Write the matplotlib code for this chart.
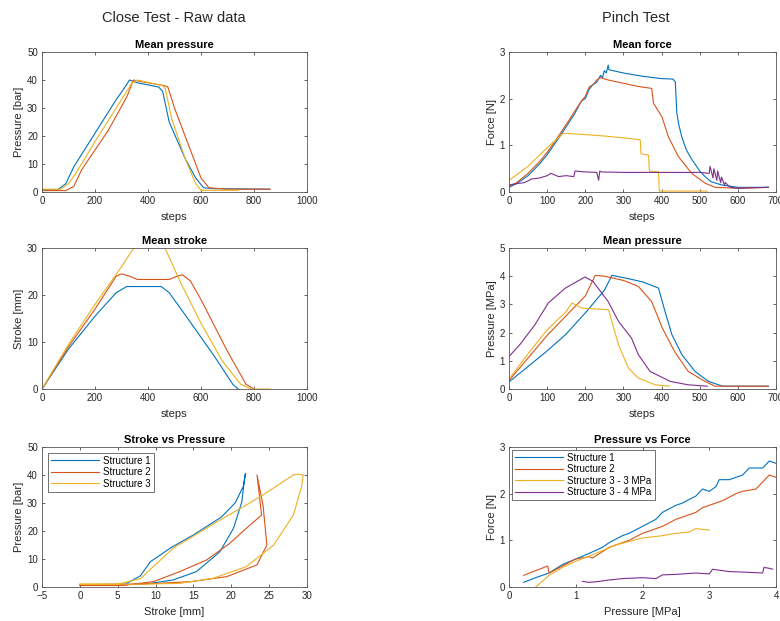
import matplotlib
matplotlib.use("Agg")
import matplotlib.pyplot as plt

plt.rcParams['font.family'] = ['Liberation Sans', 'DejaVu Sans']

C1, C2, C3, C4 = '#0072BD', '#D95319', '#EDB120', '#7E2F8E'
TXT = '#262626'

# ---------------- Close test: mean pressure [bar] vs steps
cp_s1_x = [0, 60, 90, 120, 200, 280, 310, 330, 360, 440, 455, 480, 540, 580, 610, 650, 860]
cp_s1_y = [0.8, 0.8, 3, 9, 21, 33, 37, 40, 39, 37.5, 36, 25, 12, 5, 1.5, 1.2, 1.0]
cp_s2_x = [0, 90, 120, 150, 250, 320, 345, 370, 460, 475, 500, 560, 600, 630, 700, 860]
cp_s2_y = [0.5, 0.5, 2, 8, 22, 34, 40, 39.5, 38, 37.5, 30, 15, 5, 1.5, 1.0, 1.0]
cp_s3_x = [0, 70, 100, 130, 200, 300, 340, 360, 455, 465, 490, 540, 580, 600, 740]
cp_s3_y = [1, 1, 3, 7, 18, 33, 39, 40, 38, 37, 26, 12, 3, 0.6, 0.6]

# ---------------- Close test: mean stroke [mm] vs steps
cs_s1_x = [0, 100, 200, 280, 320, 450, 480, 550, 650, 720, 740]
cs_s1_y = [0, 8.5, 15.5, 20.5, 21.8, 21.8, 20.5, 15, 7, 1, 0]
cs_s2_x = [0, 100, 200, 280, 300, 330, 360, 480, 510, 530, 560, 600, 700, 770, 800]
cs_s2_y = [0, 9, 17, 24, 24.5, 24, 23.3, 23.3, 24, 24.3, 23, 19, 8, 1, 0]
cs_s3_x = [0, 100, 200, 300, 340, 360, 460, 480, 520, 600, 680, 750, 790, 860]
cs_s3_y = [0, 9.5, 18, 26, 29.5, 30.5, 30.5, 28, 23, 14, 6, 1, 0, 0]

# ---------------- Close test: stroke vs pressure
sp_s1_x = [0, 6, 8, 9.3, 12, 15, 18.7, 20.5, 21.6, 21.9, 21.8, 21.4, 20.3, 18.5, 15.4, 12.3, 9.3, 7, 5, 0]
sp_s1_y = [0.8, 1, 4, 9, 14, 18.6, 25, 30, 36, 40.5, 40, 30.5, 21, 12.6, 5.5, 2.5, 1.3, 1, 0.8, 0.8]
sp_s2_x = [0, 6, 9.7, 13.2, 16.7, 19.8, 22, 24.0, 23.7, 23.4, 24.2, 24.7, 23.4, 19.4, 14.6, 10.2, 6, 0]
sp_s2_y = [0.6, 0.7, 1.9, 5.5, 9.6, 15.6, 21, 25.7, 33, 40, 29, 15, 7.9, 3.7, 1.9, 1.3, 0.8, 0.6]
sp_s3_x = [0, 5, 8, 12.3, 15.5, 18.5, 21.5, 24.2, 26.5, 28.2, 28.8, 29.5, 29.3, 28.2, 25.6, 22, 17.6, 13.2, 8, 0]
sp_s3_y = [1, 1, 3, 13.8, 19, 23.9, 28.5, 32.9, 37, 40, 40.3, 40, 36, 25.7, 15, 7.3, 3.1, 1.3, 1.0, 1.0]

# ---------------- Pinch test: mean force [N] vs steps
pf_s1_x = [0, 20, 50, 80, 100, 130, 150, 170, 190, 200, 210, 220, 230, 240, 245, 250, 255, 260, 262,
           300, 350, 400, 430, 436, 440, 445, 453, 465, 480, 500, 514, 530, 558, 600, 680]
pf_s1_y = [0.1, 0.18, 0.35, 0.6, 0.8, 1.15, 1.4, 1.65, 1.95, 2.0, 2.2, 2.3, 2.35, 2.5, 2.45, 2.6, 2.55, 2.72, 2.62,
           2.55, 2.48, 2.43, 2.42, 2.36, 1.69, 1.45, 1.18, 0.9, 0.69, 0.45, 0.33, 0.22, 0.15, 0.1, 0.1]
pf_s2_x = [0, 20, 50, 80, 100, 130, 150, 170, 190, 200, 210, 220, 230, 240, 260, 300, 340, 374, 379,
           401, 418, 444, 479, 514, 540, 600, 680]
pf_s2_y = [0.12, 0.2, 0.4, 0.65, 0.85, 1.2, 1.45, 1.7, 1.95, 2.05, 2.25, 2.3, 2.4, 2.45, 2.4, 2.33, 2.26, 2.22, 1.9,
           1.61, 1.18, 0.76, 0.4, 0.19, 0.1, 0.08, 0.1]
pf_s3_x = [0, 50, 100, 143, 200, 250, 300, 344, 346, 366, 368, 392, 394, 520]
pf_s3_y = [0.25, 0.55, 0.95, 1.26, 1.23, 1.2, 1.16, 1.12, 0.82, 0.79, 0.45, 0.43, 0.02, 0.02]
pf_s4_x = [0, 20, 40, 60, 80, 100, 110, 130, 150, 170, 173, 200, 230, 235, 238, 242, 300, 400, 500, 525, 527,
           535, 537, 545, 547, 555, 557, 565, 567, 580, 600, 680]
pf_s4_y = [0.15, 0.18, 0.2, 0.28, 0.3, 0.35, 0.4, 0.33, 0.35, 0.33, 0.45, 0.43, 0.42, 0.25, 0.45, 0.43, 0.42, 0.42, 0.42, 0.4, 0.55,
           0.3, 0.5, 0.25, 0.45, 0.2, 0.32, 0.15, 0.2, 0.1, 0.08, 0.1]

# ---------------- Pinch test: mean pressure [MPa] vs steps
pp_s1_x = [0, 50, 100, 150, 200, 250, 270, 300, 350, 392, 409, 427, 453, 488, 523, 560, 680]
pp_s1_y = [0.25, 0.8, 1.35, 1.95, 2.7, 3.5, 4.03, 3.95, 3.8, 3.58, 2.75, 1.93, 1.22, 0.62, 0.27, 0.1, 0.1]
pp_s2_x = [0, 50, 100, 150, 200, 226, 250, 300, 339, 374, 402, 434, 470, 514, 540, 680]
pp_s2_y = [0.3, 1.1, 1.9, 2.6, 3.3, 4.03, 4.0, 3.85, 3.64, 3.1, 2.16, 1.33, 0.62, 0.27, 0.1, 0.1]
pp_s3_x = [0, 50, 100, 150, 165, 191, 261, 287, 313, 339, 383, 420]
pp_s3_y = [0.35, 1.25, 2.1, 2.75, 3.05, 2.87, 2.81, 1.57, 0.74, 0.39, 0.15, 0.1]
pp_s4_x = [0, 30, 68, 103, 148, 199, 220, 260, 287, 321, 339, 370, 423, 469, 520]
pp_s4_y = [1.15, 1.6, 2.28, 3.05, 3.58, 3.97, 3.82, 3.1, 2.4, 1.81, 1.22, 0.62, 0.27, 0.15, 0.1]

# ---------------- Pinch test: pressure vs force
pv_s1_x = [0.22, 0.4, 0.6, 0.8, 1.0, 1.2, 1.4, 1.5, 1.7, 1.8, 2.0, 2.2, 2.3, 2.5, 2.6, 2.8, 2.9, 3.0, 3.1, 3.15, 3.3, 3.5, 3.6, 3.8, 3.9, 4.0]
pv_s1_y = [0.1, 0.2, 0.3, 0.48, 0.6, 0.72, 0.85, 0.95, 1.1, 1.15, 1.3, 1.45, 1.6, 1.75, 1.8, 1.95, 2.1, 2.05, 2.15, 2.3, 2.3, 2.4, 2.55, 2.55, 2.7, 2.65]
pv_s2_x = [0.22, 0.4, 0.58, 0.6, 0.8, 1.0, 1.2, 1.25, 1.5, 1.8, 2.0, 2.3, 2.5, 2.8, 2.9, 3.0, 3.2, 3.4, 3.5, 3.7, 3.8, 3.9, 4.0]
pv_s2_y = [0.25, 0.35, 0.45, 0.3, 0.45, 0.6, 0.65, 0.62, 0.85, 1.0, 1.15, 1.3, 1.45, 1.6, 1.7, 1.75, 1.85, 2.0, 2.05, 2.1, 2.25, 2.4, 2.35]
pv_s3_x = [0.4, 0.6, 0.8, 1.0, 1.3, 1.6, 2.0, 2.3, 2.5, 2.7, 2.8, 3.0]
pv_s3_y = [0.0, 0.25, 0.42, 0.55, 0.72, 0.9, 1.05, 1.1, 1.15, 1.18, 1.25, 1.22]
pv_s4_x = [1.1, 1.2, 1.35, 1.5, 1.7, 2.0, 2.2, 2.3, 2.5, 2.8, 3.0, 3.05, 3.3, 3.5, 3.8, 3.82, 3.9, 3.95]
pv_s4_y = [0.12, 0.1, 0.12, 0.15, 0.18, 0.2, 0.18, 0.26, 0.27, 0.3, 0.28, 0.38, 0.33, 0.32, 0.3, 0.42, 0.4, 0.38]

close_labels = ['Structure 1', 'Structure 2', 'Structure 3']
pinch_labels = ['Structure 1', 'Structure 2', 'Structure 3 - 3 MPa', 'Structure 3 - 4 MPa']

fig = plt.figure(figsize=(7.8, 6.21), dpi=100)
W, H = 780, 621

def mkax(l, t, r, b):
    return fig.add_axes([l / W, 1 - b / H, (r - l) / W, (b - t) / H])

def style(ax, title, xlabel, ylabel):
    ax.set_title(title, fontsize=8, fontweight='bold', color='black', pad=3)
    ax.set_xlabel(xlabel, fontsize=8, color=TXT, labelpad=4)
    ax.set_ylabel(ylabel, fontsize=8, color=TXT, labelpad=2)
    ax.tick_params(direction='in', length=2.5, width=0.5, labelsize=7, colors=TXT,
                   top=True, right=True, pad=3)
    for s in ax.spines.values():
        s.set_linewidth(0.6)
        s.set_color('#555555')

LW = 0.8
rows = [(52, 192), (248, 389), (447, 587)]
L = (42, 307)
R = (509, 776)

ax = mkax(L[0], rows[0][0], L[1], rows[0][1])
ax.plot(cp_s1_x, cp_s1_y, color=C1, lw=LW)
ax.plot(cp_s2_x, cp_s2_y, color=C2, lw=LW)
ax.plot(cp_s3_x, cp_s3_y, color=C3, lw=LW)
ax.set_xlim(0, 1000); ax.set_ylim(0, 50)
style(ax, 'Mean pressure', 'steps', 'Pressure [bar]')

ax = mkax(L[0], rows[1][0], L[1], rows[1][1])
ax.plot(cs_s1_x, cs_s1_y, color=C1, lw=LW)
ax.plot(cs_s2_x, cs_s2_y, color=C2, lw=LW)
ax.plot(cs_s3_x, cs_s3_y, color=C3, lw=LW)
ax.set_xlim(0, 1000); ax.set_ylim(0, 30)
ax.set_yticks([0, 10, 20, 30])
style(ax, 'Mean stroke', 'steps', 'Stroke [mm]')

ax = mkax(L[0], rows[2][0], L[1], rows[2][1])
ax.plot(sp_s1_x, sp_s1_y, color=C1, lw=LW, label=close_labels[0])
ax.plot(sp_s2_x, sp_s2_y, color=C2, lw=LW, label=close_labels[1])
ax.plot(sp_s3_x, sp_s3_y, color=C3, lw=LW, label=close_labels[2])
ax.set_xlim(-5, 30); ax.set_ylim(0, 50)
ax.set_xticks(range(-5, 31, 5))
style(ax, 'Stroke vs Pressure', 'Stroke [mm]', 'Pressure [bar]')
leg = ax.legend(loc='upper left', fontsize=7, frameon=True, fancybox=False, handlelength=5,
                borderpad=0.3, labelspacing=0.15, handletextpad=0.4, borderaxespad=0.6)
leg.get_frame().set_edgecolor('#333333'); leg.get_frame().set_linewidth(0.6)

ax = mkax(R[0], rows[0][0], R[1], rows[0][1])
ax.plot(pf_s1_x, pf_s1_y, color=C1, lw=LW)
ax.plot(pf_s2_x, pf_s2_y, color=C2, lw=LW)
ax.plot(pf_s3_x, pf_s3_y, color=C3, lw=LW)
ax.plot(pf_s4_x, pf_s4_y, color=C4, lw=LW)
ax.set_xlim(0, 700); ax.set_ylim(0, 3)
ax.set_yticks([0, 1, 2, 3])
style(ax, 'Mean force', 'steps', 'Force [N]')

ax = mkax(R[0], rows[1][0], R[1], rows[1][1])
ax.plot(pp_s1_x, pp_s1_y, color=C1, lw=LW)
ax.plot(pp_s2_x, pp_s2_y, color=C2, lw=LW)
ax.plot(pp_s3_x, pp_s3_y, color=C3, lw=LW)
ax.plot(pp_s4_x, pp_s4_y, color=C4, lw=LW)
ax.set_xlim(0, 700); ax.set_ylim(0, 5)
style(ax, 'Mean pressure', 'steps', 'Pressure [MPa]')

ax = mkax(R[0], rows[2][0], R[1], rows[2][1])
ax.plot(pv_s1_x, pv_s1_y, color=C1, lw=LW, label=pinch_labels[0])
ax.plot(pv_s2_x, pv_s2_y, color=C2, lw=LW, label=pinch_labels[1])
ax.plot(pv_s3_x, pv_s3_y, color=C3, lw=LW, label=pinch_labels[2])
ax.plot(pv_s4_x, pv_s4_y, color=C4, lw=LW, label=pinch_labels[3])
ax.set_xlim(0, 4); ax.set_ylim(0, 3)
ax.set_xticks([0, 1, 2, 3, 4]); ax.set_yticks([0, 1, 2, 3])
style(ax, 'Pressure vs Force', 'Pressure [MPa]', 'Force [N]')
leg = ax.legend(loc='upper left', fontsize=7, frameon=True, fancybox=False, handlelength=5,
                borderpad=0.3, labelspacing=0.15, handletextpad=0.4, borderaxespad=0.3)
leg.get_frame().set_edgecolor('#333333'); leg.get_frame().set_linewidth(0.6)

fig.text(174 / W, 1 - 18 / H, 'Close Test - Raw data', ha='center', va='center', fontsize=10.5, color=TXT)
fig.text(636 / W, 1 - 18 / H, 'Pinch Test', ha='center', va='center', fontsize=10.5, color=TXT)

fig.savefig('out.png', dpi=100, facecolor='white')
